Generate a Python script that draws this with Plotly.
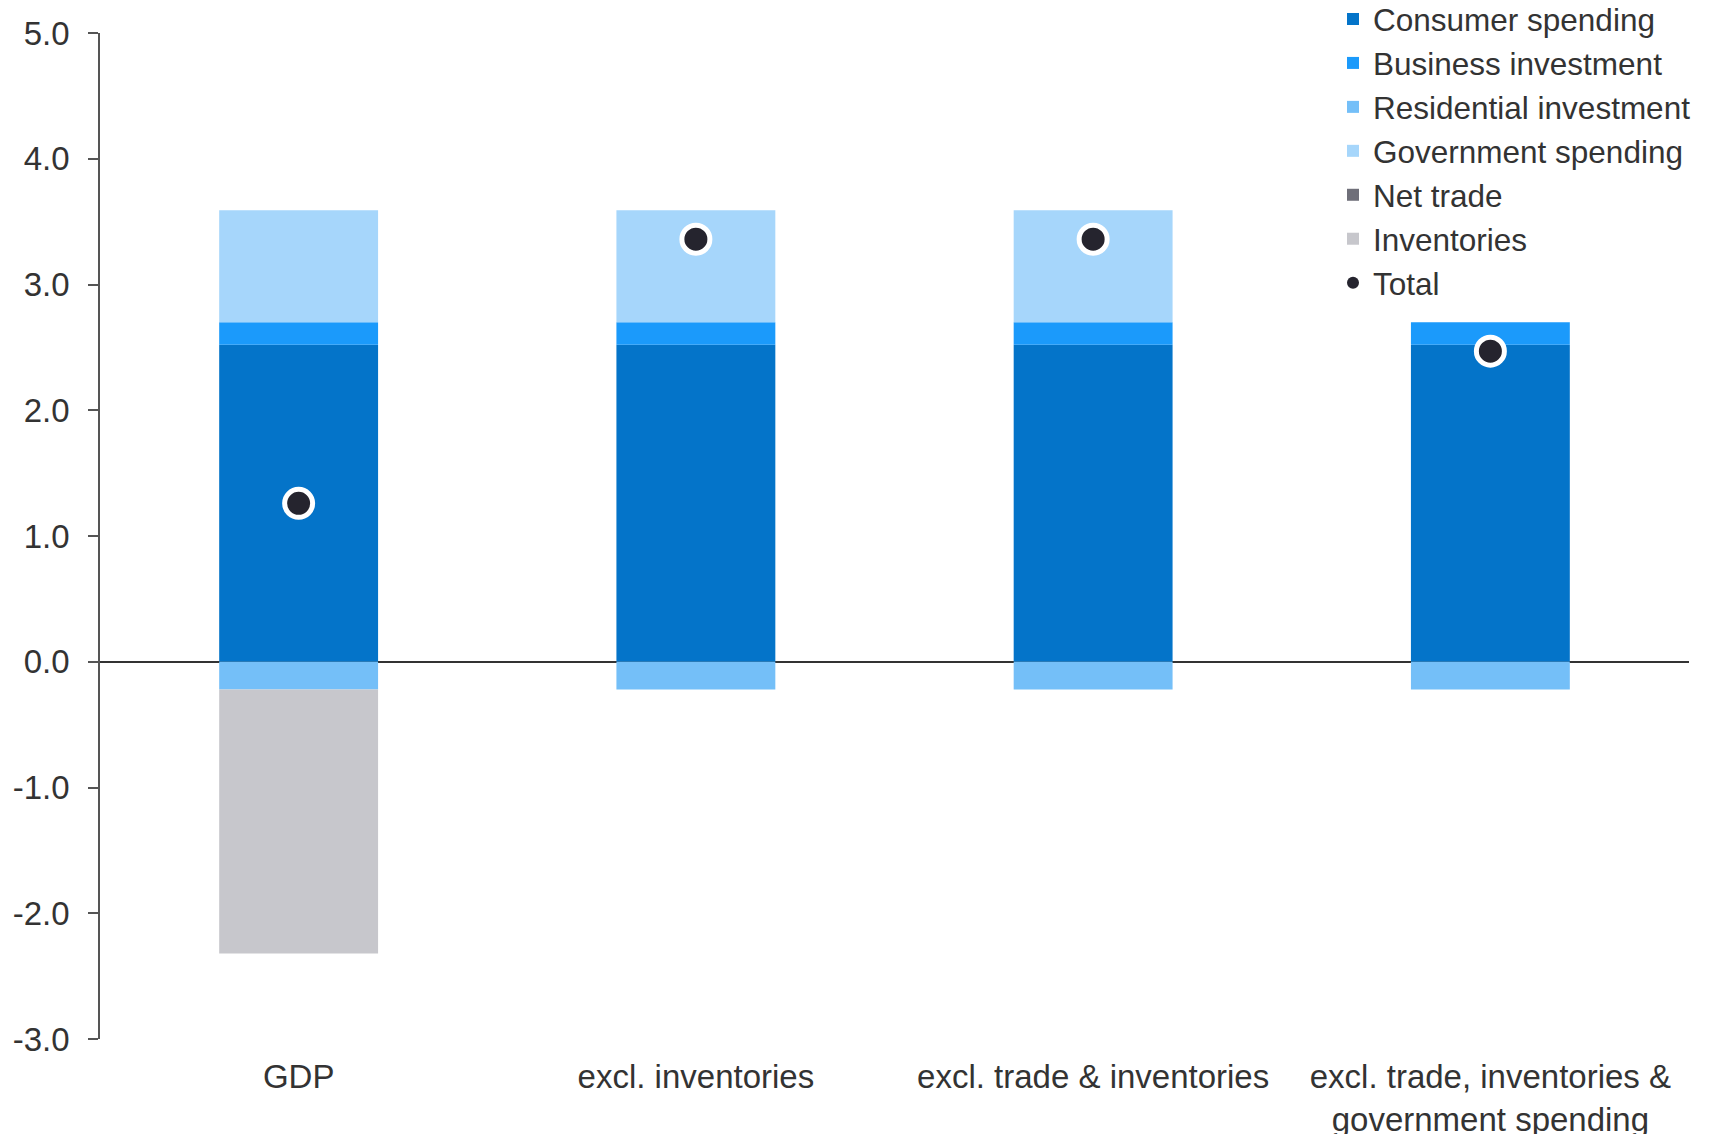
import plotly.graph_objects as go

categories = ["GDP", "excl. inventories", "excl. trade & inventories",
              "excl. trade, inventories &<br>government spending"]
consumer = [2.52, 2.52, 2.52, 2.52]
business = [0.18, 0.18, 0.18, 0.18]
residential = [-0.22, -0.22, -0.22, -0.22]
government = [0.89, 0.89, 0.89, 0.0]
net_trade = [0.0, 0.0, 0.0, 0.0]
inventories = [-2.10, 0.0, 0.0, 0.0]
total = [1.26, 3.36, 3.36, 2.47]

y_tickvals = [5, 4, 3, 2, 1, 0, -1, -2, -3]
y_ticktext = ["5.0", "4.0", "3.0", "2.0", "1.0", "0.0", "-1.0", "-2.0", "-3.0"]

series = [
    ("Consumer spending", consumer, "#0474C9"),
    ("Business investment", business, "#1B9AFB"),
    ("Residential investment", residential, "#74BFF8"),
    ("Government spending", government, "#A6D6FB"),
    ("Net trade", net_trade, "#6F6F79"),
    ("Inventories", inventories, "#C7C7CC"),
]

fig = go.Figure()
for name, vals, col in series:
    fig.add_trace(go.Bar(x=categories, y=vals, name=name, marker_color=col,
                         marker_line_width=0, width=0.4))

fig.add_trace(go.Scatter(x=categories, y=total, mode="markers", name="Total",
                         showlegend=False,
                         marker=dict(size=28, color="#25242E",
                                     line=dict(color="white", width=5))))
fig.add_trace(go.Scatter(x=[None], y=[None], mode="markers", name="Total",
                         marker=dict(size=12, color="#25242E")))

font_family = "Liberation Sans, Arial, sans-serif"
plot_h = 1134 - 25 - 103
fig.update_layout(
    barmode="relative",
    width=1716, height=1134,
    margin=dict(l=92, r=35, t=25, b=103, autoexpand=False),
    plot_bgcolor="white", paper_bgcolor="white",
    font=dict(family=font_family, size=33, color="#333333"),
    showlegend=True,
    legend=dict(x=1325 / 1716, y=(1031 + 16) / plot_h, xref="container", yref="paper",
                xanchor="left", yanchor="top",
                font=dict(size=31.5, color="#333333"),
                bgcolor="rgba(0,0,0,0)", itemwidth=30,
                tracegroupgap=0),
    xaxis=dict(showline=False, ticks="", showgrid=False, zeroline=False,
               range=[-0.5, 3.5], ticklabelstandoff=15,
               tickfont=dict(size=33, color="#333333")),
    yaxis=dict(range=[-3, 5], tickvals=y_tickvals, ticktext=y_ticktext,
               showline=True, linecolor="#555555", linewidth=1.5,
               ticks="outside", ticklen=10, tickcolor="#555555", tickwidth=1.5,
               showgrid=False, zeroline=True, zerolinecolor="#333333",
               zerolinewidth=1.5, layer="above traces",
               ticklabelstandoff=12,
               tickfont=dict(size=33, color="#333333")),
)

fig.write_html("out.html")
